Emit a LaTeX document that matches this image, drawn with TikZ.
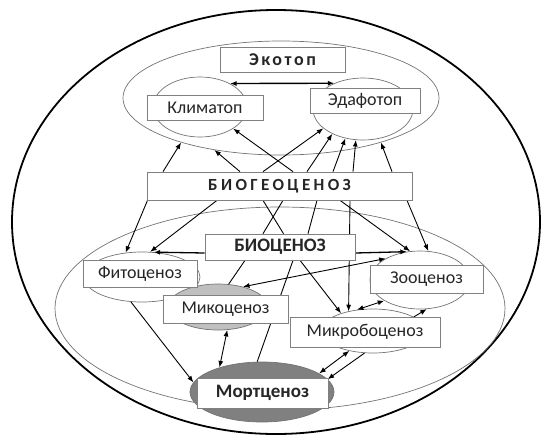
\documentclass[tikz,border=0pt]{standalone}
\usepackage{fontspec}
\setmainfont{Carlito}
\newfontfamily\spaced[LetterSpace=20]{Carlito}
\newfontfamily\spacedsmall[LetterSpace=14]{Carlito}
\usetikzlibrary{shapes.geometric,arrows.meta}
\pgfdeclarelayer{back}
\pgfdeclarelayer{mid}
\pgfsetlayers{back,mid,main}
\tikzset{
  ell/.style={ellipse, draw=black!55, line width=0.7pt, inner sep=0pt},
  lbl/.style={rectangle, draw=black!50, fill=white, line width=0.7pt, inner sep=0pt,
              font=\fontsize{18}{19}\selectfont, text=black!85},
  boldlbl/.style={lbl, font=\fontsize{19}{20}\selectfont\bfseries},
  arr/.style={-{Latex[length=6.5pt,width=5pt]}, line width=0.9pt},
  darr/.style={{Latex[length=6.5pt,width=5pt]}-{Latex[length=6.5pt,width=5pt]}, line width=0.9pt},
  ln/.style={line width=0.9pt}
}
\begin{document}
\begin{tikzpicture}[x=1pt,y=-1pt]
\useasboundingbox (0,0) rectangle (544,437);
\begin{pgfonlayer}{back}
  \node[ellipse, draw=black, line width=1.8pt, inner sep=0pt, minimum width=528pt, minimum height=424pt] (world) at (276,222) {};
  \node[ell, minimum width=316pt, minimum height=114pt] (eco) at (281,98) {};
  \node[ell, minimum width=94pt, minimum height=60pt] (klim) at (200,107) {};
  \node[ell, minimum width=100pt, minimum height=62pt] (edaf) at (363,109) {};
  \node[ell, minimum width=450pt, minimum height=203pt] (bc) at (280,308.5) {};
  \node[ell, minimum width=116pt, minimum height=50pt] (fito) at (142,277) {};
  \node[ell, minimum width=100pt, minimum height=58pt] (zoo) at (420,280) {};
  \node[ell, fill=black!25, minimum width=100pt, minimum height=46pt] (myco) at (218,307) {};
  \node[ell, minimum width=104pt, minimum height=44pt] (micro) at (373,331) {};
  \node[ell, fill=black!50, minimum width=144pt, minimum height=60pt] (mort) at (262,392) {};
\end{pgfonlayer}

\node[boldlbl, font=\fontsize{18}{19}\selectfont\bfseries\spacedsmall, minimum width=125pt, minimum height=25pt] (ecobox) at (282.5,59.5) {Экотоп};
\node[lbl, minimum width=116pt, minimum height=25pt] (klimbox) at (205,107.5) {Климатоп};
\node[lbl, minimum width=110pt, minimum height=25pt] (edafbox) at (365,100.5) {Эдафотоп};
\node[boldlbl, font=\fontsize{17}{18}\selectfont\bfseries\spaced, minimum width=265pt, minimum height=28pt] (bg) at (279.5,186) {БИОГЕОЦЕНОЗ};
\node[boldlbl, minimum width=150pt, minimum height=26pt] (bcbox) at (280,247) {БИОЦЕНОЗ};
\node[lbl, minimum width=114pt, minimum height=27pt] (fitobox) at (140,273.5) {Фитоценоз};
\node[lbl, minimum width=113pt, minimum height=28pt] (zoobox) at (426.5,279) {Зооценоз};
\node[lbl, minimum width=125pt, minimum height=28pt] (mycobox) at (225.5,309) {Микоценоз};
\node[lbl, minimum width=150pt, minimum height=30pt] (microbox) at (365,332) {Микробоценоз};
\node[boldlbl, minimum width=131pt, minimum height=30pt] (mortbox) at (262.5,393) {Мортценоз};

\begin{pgfonlayer}{mid}
  % Klimatop <-> Edafotop
  \draw[darr, line width=1.4pt] (klim.38) -- (edaf.138);
  % up arrows from biogeocenosis
  \draw[arr] ([xshift=-116.5pt]bg.north) -- (eco.-156.5);
  \draw[arr] ([xshift=-39.5pt]bg.north) -- (eco.-142.4);
  \draw[arr] ([xshift=13.5pt]bg.north) -- (klim.-33);
  \draw[arr] ([xshift=-16.5pt]bg.north) -- (edaf.-154.7);
  \draw[arr] ([xshift=27.5pt]bg.north) -- (edaf.-141.3);
  \draw[arr] ([xshift=53.5pt]bg.north) -- (edaf.-121.2);
  \draw[arr] ([xshift=73.5pt]bg.north) -- (edaf.-103.6);
  \draw[arr] ([xshift=112.5pt]bg.north) -- (eco.-24.4);
  % down from biogeocenosis
  \draw[arr] ([xshift=-132pt]bg.south) -- (fito.124.2);
  \draw[arr] ([xshift=-62.5pt]bg.south) -- (fito.72.3);
  \draw[ln] ([xshift=-16.5pt]bg.south) -- ([xshift=3.5pt]bcbox.north);
  \draw[ln] ([xshift=3.5pt]bg.south) -- ([xshift=-17pt]bcbox.north);
  \draw[ln] ([xshift=37.5pt]bg.south) -- ([xshift=28pt]bcbox.north);
  \draw[arr] ([xshift=70.5pt]bg.south) -- (micro.141);
  \draw[arr] ([xshift=60.5pt]bg.south) -- (zoo.109.7);
  \draw[arr] ([xshift=127.5pt]bg.south) -- (zoo.74);
  % biocenosis sideways
  \draw[arr, line width=1.3pt] ([yshift=-6pt]bcbox.west) -- (fito.65.4);
  \draw[arr, line width=1.3pt] ([yshift=-6pt]bcbox.east) -- (zoo.115.7);
  % biocenosis down
  \draw[ln] ([xshift=-35pt]bcbox.south) -- (myco.65.8);
  \draw[ln] ([xshift=13pt]bcbox.south) -- (mort.99.5);
  \draw[arr] ([xshift=20pt]bcbox.south) -- (micro.151);
  % among components
  \draw[darr] (myco.39) -- (zoo.148.8);
  \draw[darr] (micro.127) -- (zoo.-150);
  \draw[arr] (micro.19.6) -- (zoo.-77);
  \draw[arr] (fito.-114.8) -- (mort.172.9);
  \draw[darr] (myco.-68.6) -- (mort.150.3);
  \draw[darr] (micro.-140) -- (mort.18.1);
  \draw[arr] (micro.-111) -- (mort.11.6);
\end{pgfonlayer}
\end{tikzpicture}
\end{document}
